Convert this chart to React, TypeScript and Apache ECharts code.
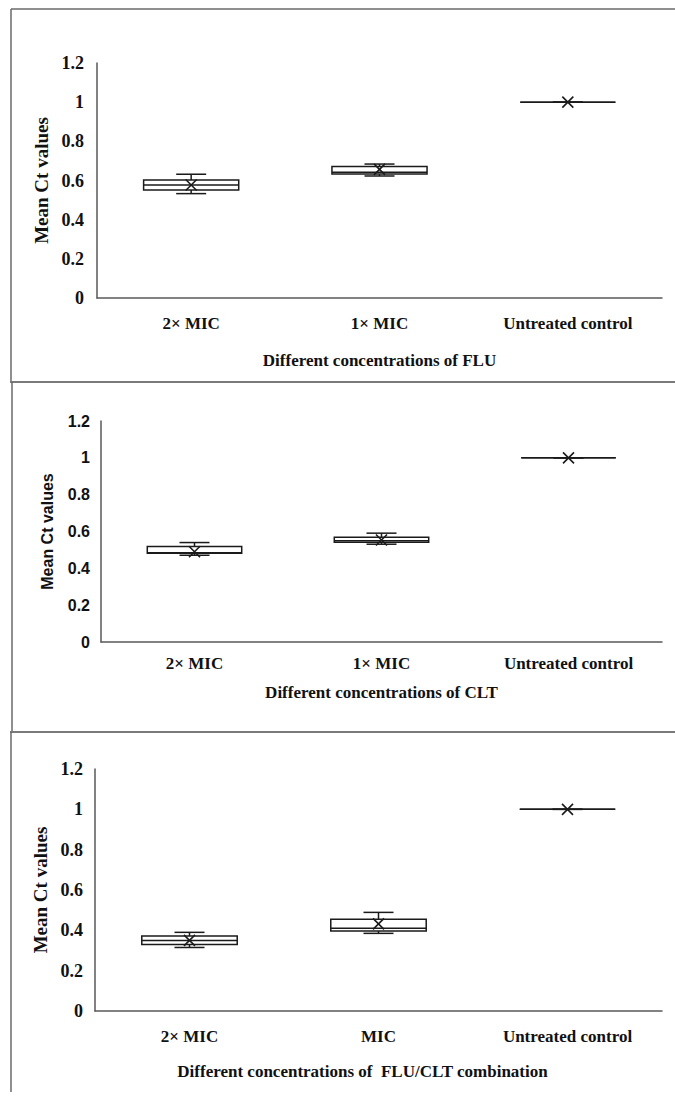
import React, { useEffect, useRef } from "react";
import * as echarts from "echarts";

// ---- Data ----
const catsFLU = ["2× MIC", "1× MIC", "Untreated control"];
const fluMin = [0.533, 0.623, 1];
const fluQ1 = [0.552, 0.633, 1];
const fluMed = [0.577, 0.642, 1];
const fluQ3 = [0.603, 0.671, 1];
const fluMax = [0.632, 0.684, 1];
const fluMean = [0.577, 0.657, 1];

const catsCLT = ["2× MIC", "1× MIC", "Untreated control"];
const cltMin = [0.471, 0.531, 1];
const cltQ1 = [0.482, 0.542, 1];
const cltMed = [0.485, 0.55, 1];
const cltQ3 = [0.518, 0.569, 1];
const cltMax = [0.54, 0.591, 1];
const cltMean = [0.49, 0.554, 1];

const catsCOMB = ["2× MIC", "MIC", "Untreated control"];
const combMin = [0.315, 0.385, 1];
const combQ1 = [0.33, 0.397, 1];
const combMed = [0.35, 0.41, 1];
const combQ3 = [0.372, 0.455, 1];
const combMax = [0.39, 0.489, 1];
const combMean = [0.35, 0.432, 1];

const yTicksMax = 1.2;
const yTickStep = 0.2;

const yTitle = "Mean Ct values";
const xTitles = [
  "Different concentrations of FLU",
  "Different concentrations of CLT",
  "Different concentrations of  FLU/CLT combination",
];

const SERIF = "'Liberation Serif', 'Times New Roman', serif";
const SANS = "'Liberation Sans', Arial, sans-serif";

function build(mins: number[], q1: number[], med: number[], q3: number[], maxs: number[], mean: number[]) {
  return mins.map((m, i) => [i, m, q1[i], med[i], q3[i], maxs[i], mean[i]]);
}

function renderBox(params: any, api: any) {
  const idx = api.value(0);
  const c = (v: number) => api.coord([idx, v]);
  const pLo = c(api.value(1));
  const pQ1 = c(api.value(2));
  const pMed = c(api.value(3));
  const pQ3 = c(api.value(4));
  const pHi = c(api.value(5));
  const pMean = c(api.value(6));
  const bw = api.size([1, 0])[0] * 0.505;
  const capW = 30;
  const x = pMed[0];
  const st = { stroke: "#1a1a1a", lineWidth: 1.5, fill: null };
  const m = 5.5;
  return {
    type: "group",
    children: [
      { type: "line", shape: { x1: x, y1: pHi[1], x2: x, y2: pQ3[1] }, style: st },
      { type: "line", shape: { x1: x, y1: pQ1[1], x2: x, y2: pLo[1] }, style: st },
      { type: "line", shape: { x1: x - capW / 2, y1: pHi[1], x2: x + capW / 2, y2: pHi[1] }, style: st },
      { type: "line", shape: { x1: x - capW / 2, y1: pLo[1], x2: x + capW / 2, y2: pLo[1] }, style: st },
      {
        type: "rect",
        shape: { x: x - bw / 2, y: pQ3[1], width: bw, height: pQ1[1] - pQ3[1] },
        style: { stroke: "#1a1a1a", lineWidth: 1.5, fill: "#ffffff" },
      },
      { type: "line", shape: { x1: x - bw / 2, y1: pMed[1], x2: x + bw / 2, y2: pMed[1] }, style: st },
      { type: "line", shape: { x1: x - m, y1: pMean[1] - m, x2: x + m, y2: pMean[1] + m }, style: { stroke: "#1a1a1a", lineWidth: 1.6 } },
      { type: "line", shape: { x1: x + m, y1: pMean[1] - m, x2: x - m, y2: pMean[1] + m }, style: { stroke: "#1a1a1a", lineWidth: 1.6 } },
    ],
  };
}

export default function App() {
  const ref = useRef<HTMLDivElement>(null);

  useEffect(() => {
    if (!ref.current) return;
    const chart = echarts.init(ref.current, undefined, { renderer: "svg" });

    const grids = [
      { left: 97, top: 63, width: 565, height: 235 },
      { left: 101, top: 421, width: 561, height: 221 },
      { left: 95, top: 769, width: 567, height: 242 },
    ];
    const catsAll = [catsFLU, catsCLT, catsCOMB];
    const labelMargins = [17, 13, 17];
    const nameGaps = [54, 42, 52];
    const yNameGaps = [46, 46, 42];
    const yLabelMargins = [13, 11, 12];
    const yFonts = [SERIF, SANS, SERIF];
    const ySizes = [18, 16, 18];
    const yNameSizes = [19, 16, 19];

    const axisLine = { show: true, lineStyle: { color: "#595959", width: 1.5 } };

    const xAxis = catsAll.map((cats, i) => ({
      type: "category",
      gridIndex: i,
      data: cats,
      boundaryGap: true,
      axisLine,
      axisTick: { show: false },
      axisLabel: {
        margin: labelMargins[i],
        fontFamily: SERIF,
        fontWeight: "bold",
        fontSize: 17,
        color: "#111",
      },
      name: xTitles[i],
      nameLocation: "middle",
      nameGap: nameGaps[i],
      nameTextStyle: {
        fontFamily: SERIF,
        fontWeight: "bold",
        fontSize: 17,
        color: "#111",
        padding: i === 2 ? [0, 32, 0, 0] : 0,
      },
      splitLine: { show: false },
    }));

    const yAxis = grids.map((_, i) => ({
      type: "value",
      gridIndex: i,
      min: 0,
      max: yTicksMax,
      interval: yTickStep,
      axisLine,
      axisTick: { show: false },
      splitLine: { show: false },
      axisLabel: {
        margin: yLabelMargins[i],
        fontFamily: yFonts[i],
        fontWeight: "bold",
        fontSize: ySizes[i],
        color: "#111",
        formatter: (v: number) => String(Math.round(v * 10) / 10),
      },
      name: yTitle,
      nameLocation: "middle",
      nameGap: yNameGaps[i],
      nameRotate: 90,
      nameTextStyle: {
        fontFamily: yFonts[i],
        fontWeight: "bold",
        fontSize: yNameSizes[i],
        color: "#111",
      },
    }));

    const datasets = [
      build(fluMin, fluQ1, fluMed, fluQ3, fluMax, fluMean),
      build(cltMin, cltQ1, cltMed, cltQ3, cltMax, cltMean),
      build(combMin, combQ1, combMed, combQ3, combMax, combMean),
    ];

    const series = datasets.map((d, i) => ({
      type: "custom",
      xAxisIndex: i,
      yAxisIndex: i,
      renderItem: renderBox,
      encode: { x: 0, y: [1, 2, 3, 4, 5, 6] },
      data: d,
      silent: true,
    }));

    const border = { stroke: "#7a7a7a", lineWidth: 2 };
    const graphic = [
      { type: "line", shape: { x1: 11, y1: 9, x2: 675, y2: 9 }, style: { stroke: "#6a6a6a", lineWidth: 1.5 } },
      { type: "line", shape: { x1: 11, y1: 9, x2: 11, y2: 382 }, style: { stroke: "#6a6a6a", lineWidth: 1.5 } },
      { type: "line", shape: { x1: 10, y1: 382, x2: 675, y2: 382 }, style: border },
      { type: "line", shape: { x1: 12, y1: 382, x2: 12, y2: 732 }, style: { stroke: "#6a6a6a", lineWidth: 1.5 } },
      { type: "line", shape: { x1: 10, y1: 732, x2: 675, y2: 732 }, style: border },
      { type: "line", shape: { x1: 11, y1: 732, x2: 11, y2: 1092 }, style: { stroke: "#6a6a6a", lineWidth: 1.5 } },
    ];

    chart.setOption({
      animation: false,
      backgroundColor: "#ffffff",
      grid: grids,
      xAxis,
      yAxis,
      series,
      graphic,
    });

    return () => chart.dispose();
  }, []);

  return (
    <div
      ref={ref}
      style={{ position: "absolute", left: 0, top: 0, width: 675, height: 1106 }}
    />
  );
}
